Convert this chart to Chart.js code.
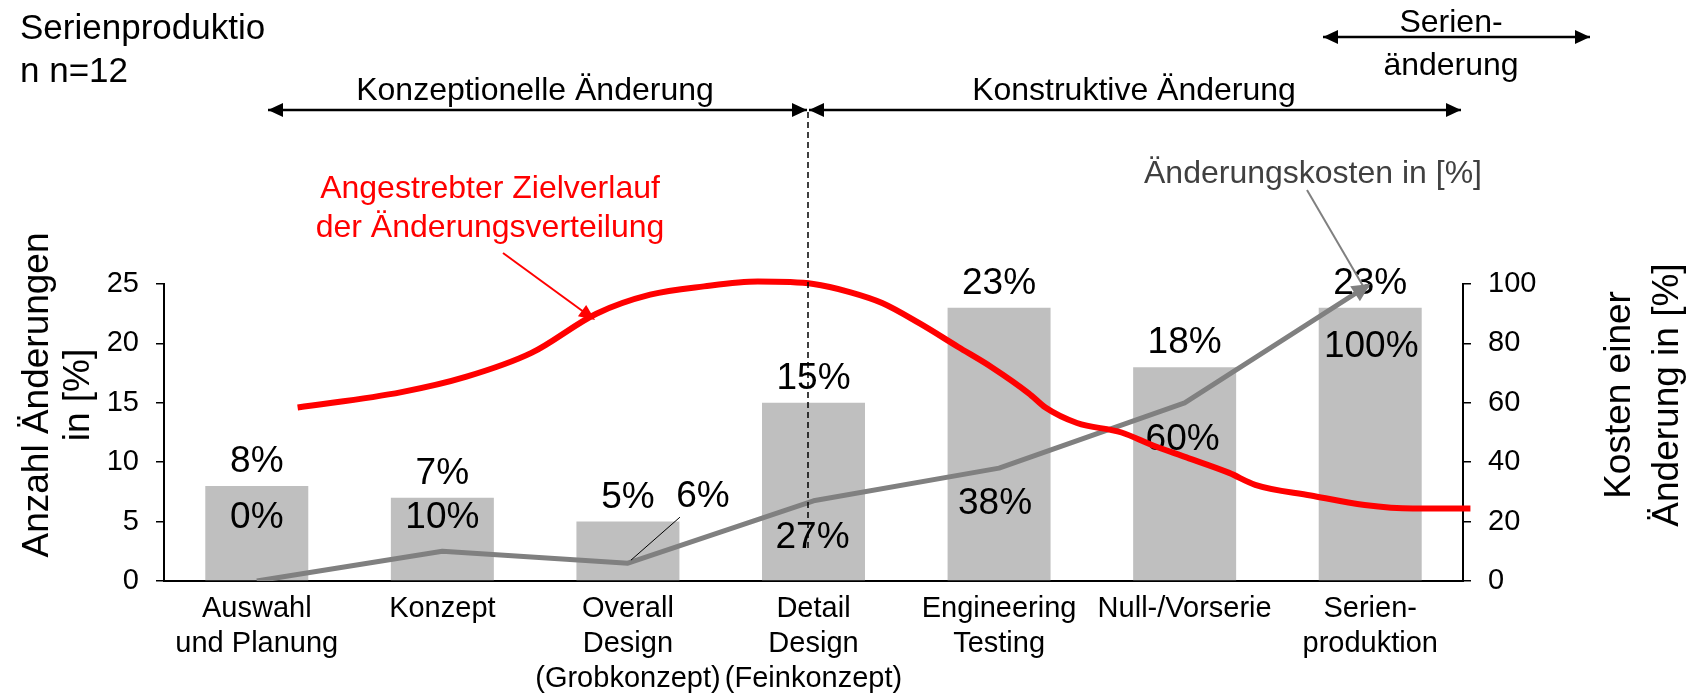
<!DOCTYPE html>
<html>
<head>
<meta charset="utf-8">
<script src="https://cdn.jsdelivr.net/npm/chart.js@4.4.1/dist/chart.umd.min.js"></script>
<style>
  html, body { margin: 0; padding: 0; background: #fff; }
  #wrap { width: 1699px; height: 695px; position: relative; }
</style>
</head>
<body>
<div id="wrap"><canvas id="myChart"></canvas></div>
<script>
// phases of the product development process
const phases = [
  ["Auswahl", "und Planung"],
  ["Konzept"],
  ["Overall", "Design", "(Grobkonzept)"],
  ["Detail", "Design", "(Feinkonzept)"],
  ["Engineering", "Testing"],
  ["Null-/Vorserie"],
  ["Serien-", "produktion"]
];
// share of changes per phase in % (left axis)
const changeShare = [8, 7, 5, 15, 23, 18, 23];
// cost of a change in % (right axis)
const changeCost = [0, 10, 6, 27, 38, 60, 100];
// hand drawn target curve, x = phase index (fractional), y = left axis
const targetX = [0.22, 0.78, 1.13, 1.48, 1.83, 2.12, 2.41, 2.70, 3.00, 3.20, 3.37, 3.57, 3.78, 3.96, 4.16, 4.25, 4.42, 4.66, 4.83, 5.01, 5.24, 5.38, 5.68, 5.97, 6.23, 6.54];
const targetY = [14.6, 15.9, 17.2, 19.2, 22.5, 24.1, 24.8, 25.2, 25.0, 24.3, 23.4, 21.7, 19.7, 18.0, 15.8, 14.6, 13.3, 12.5, 11.4, 10.4, 9.1, 8.1, 7.2, 6.4, 6.1, 6.1];

// label placement for the cost values (dx, dy from the point)
const costLabelShift = [[0, -63], [0, -34], [75, -66], [-1, 37], [-4, 36], [-2, 37], [1, 63]];
const leaderIndex = 2;

const FONT = "'Liberation Sans', Arial, sans-serif";
Chart.defaults.font.family = FONT;

function arrowHead(c, x1, y1, x2, y2, len, half, color) {
  const a = Math.atan2(y2 - y1, x2 - x1);
  const bx = x2 - len * Math.cos(a), by = y2 - len * Math.sin(a);
  c.save();
  c.fillStyle = color;
  c.beginPath();
  c.moveTo(x2, y2);
  c.lineTo(bx + half * Math.sin(a), by - half * Math.cos(a));
  c.lineTo(bx - half * Math.sin(a), by + half * Math.cos(a));
  c.closePath();
  c.fill();
  c.restore();
}

function arrow(c, x1, y1, x2, y2, color, width, both) {
  c.save();
  c.strokeStyle = color;
  c.lineWidth = width;
  c.beginPath();
  c.moveTo(x1, y1);
  c.lineTo(x2, y2);
  c.stroke();
  c.restore();
  arrowHead(c, x1, y1, x2, y2, 15, 7, color);
  if (both) arrowHead(c, x2, y2, x1, y1, 15, 7, color);
}

function text(c, str, x, y, size, color, align) {
  c.save();
  c.font = size + "px " + FONT;
  c.fillStyle = color;
  c.textAlign = align || "center";
  c.textBaseline = "alphabetic";
  c.fillText(str, x, y);
  c.restore();
}

const decorations = {
  id: "decorations",
  beforeDatasetDraw(chart, args) {
    // value labels go under the red curve
    if (args.index !== 2) return;
    const c = chart.ctx;
    c.save();
    c.font = "37px " + FONT;
    c.fillStyle = "#000";
    c.textAlign = "center";
    c.textBaseline = "middle";
    chart.getDatasetMeta(0).data.forEach((bar, i) => {
      c.fillText(changeShare[i] + "%", bar.x, bar.y - 24);
    });
    chart.getDatasetMeta(1).data.forEach((pt, i) => {
      const s = costLabelShift[i];
      c.fillText(changeCost[i] + "%", pt.x + s[0], pt.y + s[1]);
    });
    const lp = chart.getDatasetMeta(1).data[leaderIndex];
    c.strokeStyle = "#000";
    c.lineWidth = 1;
    c.beginPath();
    c.moveTo(lp.x + 3, lp.y - 3);
    c.lineTo(lp.x + 52, lp.y - 46);
    c.stroke();
    c.restore();
  },
  afterDraw(chart) {
    const c = chart.ctx;
    // arrow head at the end of the cost line
    const pts = chart.getDatasetMeta(1).data;
    const p1 = pts[pts.length - 2], p2 = pts[pts.length - 1];
    arrowHead(c, p1.x, p1.y, p2.x, p2.y, 18, 9, "#808080");

    // title
    text(c, "Serienproduktio", 20, 39, 35, "#000", "left");
    text(c, "n n=12", 20, 82, 35, "#000", "left");

    // phase arrows
    arrow(c, 268, 110, 807, 110, "#000", 2.5, true);
    arrow(c, 809, 110, 1461, 110, "#000", 2.5, true);
    arrow(c, 1323, 37, 1590, 37, "#000", 2.5, true);
    text(c, "Konzeptionelle Änderung", 535, 100, 32, "#000");
    text(c, "Konstruktive Änderung", 1134, 100, 32, "#000");
    text(c, "Serien-", 1451, 32, 32, "#000");
    text(c, "änderung", 1451, 75, 32, "#000");

    // dashed divider
    c.save();
    c.strokeStyle = "#000";
    c.lineWidth = 1.5;
    c.setLineDash([6, 4]);
    c.beginPath();
    c.moveTo(808, 112);
    c.lineTo(808, 548);
    c.stroke();
    c.restore();

    // red callout
    text(c, "Angestrebter Zielverlauf", 490, 198, 32, "#FF0000");
    text(c, "der Änderungsverteilung", 490, 237, 32, "#FF0000");
    c.save();
    c.strokeStyle = "#FF0000";
    c.lineWidth = 2;
    c.beginPath();
    c.moveTo(503, 253);
    c.lineTo(588, 315);
    c.stroke();
    c.restore();
    arrowHead(c, 503, 253, 595, 320, 16, 7, "#FF0000");

    // cost callout
    text(c, "Änderungskosten in [%]", 1313, 183, 32, "#404040");
    c.save();
    c.strokeStyle = "#808080";
    c.lineWidth = 2;
    c.beginPath();
    c.moveTo(1307, 190);
    c.lineTo(p2.x - 6, p2.y + 4);
    c.stroke();
    c.restore();

    // axis titles
    c.save();
    c.translate(0, 395);
    c.rotate(-Math.PI / 2);
    c.font = "37px " + FONT;
    c.fillStyle = "#000";
    c.textAlign = "center";
    c.fillText("Anzahl Änderungen", 0, 48);
    c.fillText("in [%]", 0, 89);
    c.fillText("Kosten einer", 0, 1630);
    c.fillText("Änderung in [%]", 0, 1678);
    c.restore();
  }
};

const ctx = document.getElementById("myChart").getContext("2d");
const myChart = new Chart(ctx, {
  type: "bar",
  data: {
    labels: phases,
    datasets: [
      {
        type: "bar",
        data: changeShare,
        backgroundColor: "#BFBFBF",
        xAxisID: "x",
        yAxisID: "y",
        grouped: false,
        categoryPercentage: 1,
        barPercentage: 0.555,
        order: 3
      },
      {
        type: "line",
        data: changeCost,
        borderColor: "#808080",
        borderWidth: 5,
        pointRadius: 0,
        tension: 0,
        borderJoinStyle: "round",
        xAxisID: "x",
        yAxisID: "y2",
        order: 2
      },
      {
        type: "line",
        data: targetX.map((x, i) => ({ x: x, y: targetY[i] })),
        borderColor: "#FF0000",
        borderWidth: 6,
        pointRadius: 0,
        cubicInterpolationMode: "monotone",
        xAxisID: "x2",
        yAxisID: "y",
        clip: false,
        order: 1
      }
    ]
  },
  options: {
    responsive: true,
    maintainAspectRatio: false,
    animation: false,
    layout: { padding: { top: 284, left: 0, right: 0, bottom: 0 } },
    plugins: {
      legend: { display: false },
      tooltip: { enabled: false }
    },
    scales: {
      x: {
        position: "bottom",
        grid: { display: false, drawTicks: false },
        border: { display: true, color: "#000", width: 2 },
        ticks: {
          color: "#000",
          font: { size: 29, lineHeight: 1.2 },
          padding: 11,
          maxRotation: 0,
          autoSkip: false
        },
        afterFit: s => { s.height = 114; }
      },
      x2: {
        type: "linear",
        display: false,
        offset: false,
        grid: { offset: false },
        min: -0.5,
        max: 6.5
      },
      y: {
        position: "left",
        min: 0,
        max: 25,
        ticks: { stepSize: 5, color: "#000", font: { size: 29 }, padding: 17 },
        grid: { drawOnChartArea: false, color: "#000", lineWidth: 1.5, tickLength: 8 },
        border: { display: true, color: "#000", width: 2 },
        afterFit: s => { s.width = 164; }
      },
      y2: {
        position: "right",
        min: 0,
        max: 100,
        ticks: { stepSize: 20, color: "#000", font: { size: 29 }, padding: 17 },
        grid: { drawOnChartArea: false, color: "#000", lineWidth: 1.5, tickLength: 8 },
        border: { display: true, color: "#000", width: 2 },
        afterFit: s => { s.width = 236; }
      }
    }
  },
  plugins: [decorations]
});
</script>
</body>
</html>
